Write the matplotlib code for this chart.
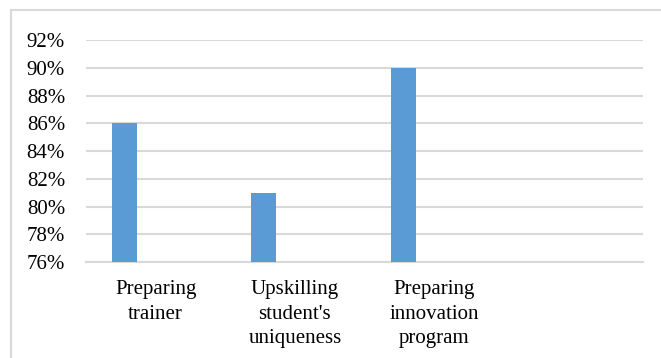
import matplotlib.pyplot as plt
from matplotlib.patches import Rectangle
from matplotlib.ticker import FuncFormatter
import numpy as np

# 数据
categories = ['Preparing\ntrainer', "Upskilling\nstudent's\nuniqueness", 'Preparing\ninnovation\nprogram']
values = [86, 81, 90]
yticks = [76, 78, 80, 82, 84, 86, 88, 90, 92]

plt.rcParams['font.family'] = ['Liberation Serif', 'DejaVu Serif']

fig = plt.figure(figsize=(6.61, 3.58), dpi=100)
ax = fig.add_axes([0.130, 0.268, 0.843, 0.620])

x = np.arange(len(categories))
ax.bar(x - 0.223, values, width=0.18, color='#5b9bd5', zorder=3)

ax.set_xlim(-0.5, 3.5)
ax.set_ylim(76, 92)
ax.set_yticks(yticks)
ax.yaxis.set_major_formatter(FuncFormatter(lambda v, p: '%d%%' % v))
ax.set_xticks(x)
ax.set_xticklabels(categories, linespacing=1.4)
ax.tick_params(axis='both', length=0, labelsize=15, colors='black')
ax.tick_params(axis='y', pad=15)
ax.tick_params(axis='x', pad=13)

ax.grid(axis='y', color='#d9d9d9', linewidth=1.5, zorder=0)
for s in ['top', 'right', 'left']:
    ax.spines[s].set_visible(False)
ax.spines['bottom'].set_color('#d9d9d9')
ax.spines['bottom'].set_linewidth(1.5)

# 外框
fig.patches.append(Rectangle((11 / 661, -0.2), 1.2, 1.2 - 10 / 358, transform=fig.transFigure,
                             fill=False, edgecolor='#d9d9d9', linewidth=1.5))

plt.savefig('out.png', dpi=100)
